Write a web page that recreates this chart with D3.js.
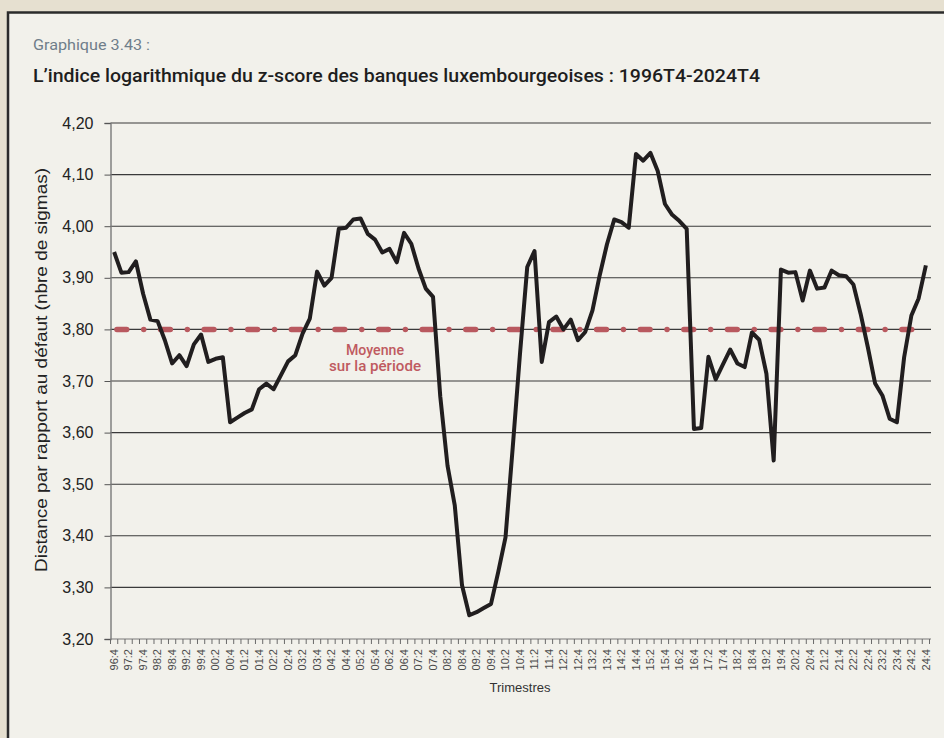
<!DOCTYPE html>
<html>
<head>
<meta charset="utf-8">
<script src="https://cdn.jsdelivr.net/npm/d3@7/dist/d3.min.js"></script>
<style>
  html, body { margin: 0; padding: 0; background: #e6e0d0; }
  svg { display: block; }
</style>
</head>
<body>
<svg id="chart" width="944" height="738"></svg>
<script>
// Log z-score index of Luxembourg banks, quarterly 1996Q4 - 2024Q4
const firstYear = 1996, firstQuarter = 4, lastYear = 2024, lastQuarter = 4;

const zScore = [
  3.950, 3.910, 3.911, 3.932, 3.869, 3.819, 3.816, 3.779, 3.734, 3.750,
  3.729, 3.771, 3.790, 3.737, 3.743, 3.746, 3.620, 3.629, 3.638, 3.645,
  3.684, 3.695, 3.684, 3.711, 3.738, 3.750, 3.792, 3.821, 3.912, 3.885,
  3.900, 3.995, 3.997, 4.013, 4.015, 3.985, 3.974, 3.949, 3.956, 3.930,
  3.987, 3.966, 3.918, 3.879, 3.863, 3.670, 3.536, 3.459, 3.304, 3.246,
  3.252, 3.260, 3.268, 3.330, 3.397, 3.572, 3.753, 3.921, 3.952, 3.737,
  3.814, 3.825, 3.800, 3.819, 3.779, 3.795, 3.837, 3.905, 3.965, 4.013,
  4.008, 3.997, 4.140, 4.127, 4.142, 4.107, 4.043, 4.022, 4.010, 3.995,
  3.607, 3.609, 3.747, 3.703, 3.732, 3.761, 3.734, 3.727, 3.794, 3.780,
  3.714, 3.546, 3.916, 3.910, 3.911, 3.856, 3.914, 3.879, 3.881, 3.914,
  3.905, 3.903, 3.887, 3.830, 3.765, 3.695, 3.672, 3.627, 3.620, 3.746,
  3.827, 3.860, 3.924
];

// Average over the whole period
const meanValue = [3.80];

const yTicks = [3.20, 3.30, 3.40, 3.50, 3.60, 3.70, 3.80, 3.90, 4.00, 4.10, 4.20];

const xTickLabels = [
  "96:4","97:2","97:4","98:2","98:4","99:2","99:4","00:2","00:4","01:2",
  "01:4","02:2","02:4","03:2","03:4","04:2","04:4","05:2","05:4","06:2",
  "06:4","07:2","07:4","08:2","08:4","09:2","09:4","10:2","10:4","11:2",
  "11:4","12:2","12:4","13:2","13:4","14:2","14:4","15:2","15:4","16:2",
  "16:4","17:2","17:4","18:2","18:4","19:2","19:4","20:2","20:4","21:2",
  "21:4","22:2","22:4","23:2","23:4","24:2","24:4"
];

const titleSmall = "Graphique 3.43 :";
const titleMain = "L\u2019indice logarithmique du z-score des banques luxembourgeoises : 1996T4-2024T4";
const yTitle = "Distance par rapport au d\u00e9faut (nbre de sigmas)";
const xTitle = "Trimestres";
const meanLabel = ["Moyenne", "sur la p\u00e9riode"];

// Quarter categories "YY:Q"
const quarters = [];
for (let yr = firstYear, q = firstQuarter; yr < lastYear || (yr === lastYear && q <= lastQuarter);) {
  quarters.push(String(yr % 100).padStart(2, "0") + ":" + q);
  q++; if (q > 4) { q = 1; yr++; }
}

const svg = d3.select("#chart");
const condensed = "'Roboto', 'DejaVu Sans Condensed', sans-serif";
const sans = "'Liberation Sans', Arial, sans-serif";

// Panel
svg.append("rect").attr("x", 8).attr("y", 12.5).attr("width", 1000).attr("height", 800)
  .attr("fill", "#f2f1eb").attr("stroke", "#2b2b2b").attr("stroke-width", 2.5);

svg.append("text").attr("x", 33).attr("y", 50).text(titleSmall)
  .attr("font-family", condensed).attr("font-size", 15).attr("fill", "#6f7e8a")
  .attr("textLength", 117).attr("lengthAdjust", "spacingAndGlyphs");

svg.append("text").attr("x", 33).attr("y", 82).text(titleMain)
  .attr("font-family", condensed).attr("font-size", 18).attr("font-weight", 500).attr("fill", "#1e1e1e")
  .attr("textLength", 727).attr("lengthAdjust", "spacingAndGlyphs");

const plotLeft = 110.5, plotRight = 929.5, plotTop = 123, plotBottom = 639;

const x = d3.scaleBand().domain(quarters).range([plotLeft, plotRight]).padding(0);
const cx = q => x(q) + x.bandwidth() / 2;
const y = d3.scaleLinear().domain([3.2, 4.2]).range([plotBottom, plotTop]);

const fr = d3.formatLocale({decimal: ",", thousands: " ", grouping: [3], currency: ["", ""]});
const fmt = fr.format(".2f");

// Gridlines
svg.append("g").selectAll("line").data(yTicks).join("line")
  .attr("x1", plotLeft).attr("x2", 931)
  .attr("y1", d => y(d)).attr("y2", d => y(d))
  .attr("stroke", d => d === 3.2 ? "#7a7a7a" : "#3a3a3a").attr("stroke-width", 1.1);

// Y axis
const yAxis = svg.append("g").attr("transform", `translate(${plotLeft},0)`)
  .call(d3.axisLeft(y).tickValues(yTicks).tickFormat(fmt).tickSize(6).tickPadding(11));
yAxis.select(".domain").attr("stroke", "#7a7a7a").attr("stroke-width", 1.4);
yAxis.selectAll(".tick line").attr("stroke", "#555");
yAxis.selectAll(".tick text").attr("font-family", sans).attr("font-size", 16).attr("fill", "#222");

// X axis: ticks at quarter boundaries, labels every second quarter
const bounds = quarters.map(q => x(q)).concat([plotRight]);
svg.append("g").selectAll("line").data(bounds).join("line")
  .attr("x1", d => d).attr("x2", d => d).attr("y1", plotBottom).attr("y2", plotBottom + 5)
  .attr("stroke", "#6a6a6a").attr("stroke-width", 1);

const labelled = quarters.filter(q => xTickLabels.includes(q));
svg.append("g").selectAll("text").data(labelled).join("text")
  .attr("transform", q => `translate(${cx(q) + 3.8},${plotBottom + 10}) rotate(-90)`)
  .attr("text-anchor", "end")
  .attr("font-family", sans).attr("font-size", 11).attr("fill", "#4a4a4a")
  .text(q => q);

// Mean line
const meanLine = d3.line().x(d => d[0]).y(d => y(d[1]));
svg.append("path")
  .attr("d", meanLine([[cx(quarters[0]), meanValue[0]], [cx(quarters[quarters.length - 1]), meanValue[0]]]))
  .attr("fill", "none").attr("stroke", "#b9595f").attr("stroke-width", 5.5)
  .attr("stroke-linecap", "round")
  .attr("stroke-dasharray", "9.8,17,0.01,16.8")
  .attr("stroke-dashoffset", -2.8);

// Series line
const line = d3.line().x((d, i) => cx(quarters[i])).y(d => y(d));
svg.append("path").attr("d", line(zScore))
  .attr("fill", "none").attr("stroke", "#211e1f").attr("stroke-width", 4)
  .attr("stroke-linejoin", "round").attr("stroke-linecap", "butt");

// Mean label
svg.append("g").selectAll("text").data(meanLabel).join("text")
  .attr("x", 375).attr("y", (d, i) => 355 + i * 15.5)
  .attr("text-anchor", "middle")
  .attr("font-family", condensed).attr("font-size", 14.5).attr("font-weight", 500).attr("fill", "#bf5a60")
  .attr("textLength", (d, i) => i === 0 ? 58 : 92).attr("lengthAdjust", "spacingAndGlyphs")
  .text(d => d);

// Axis titles
svg.append("text").attr("transform", "translate(47,370) rotate(-90)")
  .attr("text-anchor", "middle").attr("font-family", sans).attr("font-size", 16).attr("fill", "#222")
  .attr("textLength", 404).attr("lengthAdjust", "spacingAndGlyphs")
  .text(yTitle);

svg.append("text").attr("x", 520).attr("y", 692).attr("text-anchor", "middle")
  .attr("font-family", sans).attr("font-size", 13).attr("fill", "#333")
  .text(xTitle);
</script>
</body>
</html>
